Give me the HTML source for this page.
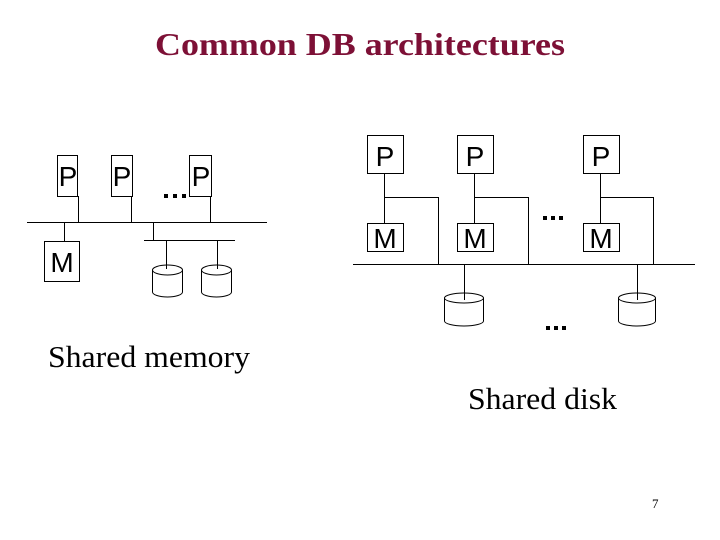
<!DOCTYPE html>
<html><head><style>body{margin:0;background:#fff}svg{display:block}</style></head>
<body>
<svg width="720" height="540" xmlns="http://www.w3.org/2000/svg" font-family="Liberation Sans, sans-serif">
<text x="360" y="55" text-anchor="middle" font-family="Liberation Serif, serif" font-weight="bold" font-size="32" fill="#7d1036" textLength="410" lengthAdjust="spacingAndGlyphs">Common DB architectures</text>
<g stroke="#000" stroke-width="1" fill="none">
<rect x="57.5" y="155.5" width="20" height="41"/>
<rect x="111.5" y="155.5" width="21" height="41"/>
<rect x="189.5" y="155.5" width="22" height="41"/>
<rect x="44.5" y="241.5" width="35" height="40"/>
<line x1="27" y1="222.5" x2="267" y2="222.5"/>
<line x1="78.5" y1="196" x2="78.5" y2="222"/>
<line x1="131.5" y1="196" x2="131.5" y2="222"/>
<line x1="210.5" y1="196" x2="210.5" y2="222"/>
<line x1="64.5" y1="222" x2="64.5" y2="241"/>
<line x1="153.5" y1="222" x2="153.5" y2="240"/>
<line x1="144" y1="240.5" x2="235" y2="240.5"/>
<line x1="166.5" y1="240" x2="166.5" y2="269"/>
<line x1="217.5" y1="240" x2="217.5" y2="269"/>
<path d="M152.5 270 v22 a15 5 0 0 0 30 0 v-22 a15 5 0 0 0 -30 0 a15 5 0 0 0 30 0"/>
<path d="M201.5 270 v22 a15 5 0 0 0 30 0 v-22 a15 5 0 0 0 -30 0 a15 5 0 0 0 30 0"/>
<rect x="367.5" y="135.5" width="36" height="38"/>
<rect x="457.5" y="135.5" width="36" height="38"/>
<rect x="583.5" y="135.5" width="36" height="38"/>
<rect x="367.5" y="223.5" width="36" height="28"/>
<rect x="457.5" y="223.5" width="36" height="28"/>
<rect x="583.5" y="223.5" width="36" height="28"/>
<line x1="384.5" y1="173" x2="384.5" y2="223"/>
<line x1="474.5" y1="173" x2="474.5" y2="223"/>
<line x1="600.5" y1="173" x2="600.5" y2="223"/>
<path d="M384 197.5 H438.5 V264"/>
<path d="M474 197.5 H528.5 V264"/>
<path d="M600 197.5 H653.5 V264"/>
<line x1="353" y1="264.5" x2="695" y2="264.5"/>
<line x1="464.5" y1="264" x2="464.5" y2="300"/>
<line x1="637.5" y1="264" x2="637.5" y2="300"/>
<path d="M444.5 298 v23 a19.5 5 0 0 0 39 0 v-23 a19.5 5 0 0 0 -39 0 a19.5 5 0 0 0 39 0"/>
<path d="M618.5 298 v23 a18.5 5 0 0 0 37 0 v-23 a18.5 5 0 0 0 -37 0 a18.5 5 0 0 0 37 0"/>
</g>
<g font-size="28" text-anchor="middle">
<text x="68" y="186">P</text><text x="122" y="186">P</text><text x="201" y="186">P</text>
<text x="62" y="272">M</text>
<text x="385" y="166">P</text><text x="475" y="166">P</text><text x="601" y="166">P</text>
<text x="385" y="248">M</text><text x="475" y="248">M</text><text x="601" y="248">M</text>
</g>
<g fill="#000">
<rect x="164" y="194" width="4" height="4"/><rect x="173" y="194" width="4" height="4"/><rect x="182" y="194" width="4" height="4"/>
<rect x="543" y="216" width="4" height="4"/><rect x="551" y="216" width="4" height="4"/><rect x="559" y="216" width="4" height="4"/>
<rect x="546" y="326" width="4" height="4"/><rect x="554" y="326" width="4" height="4"/><rect x="562" y="326" width="4" height="4"/>
</g>
<g font-family="Liberation Serif, serif" font-size="31">
<text x="48" y="367" textLength="202" lengthAdjust="spacingAndGlyphs">Shared memory</text>
<text x="468" y="409" textLength="149" lengthAdjust="spacingAndGlyphs">Shared disk</text>
</g>
<text x="652" y="508" font-family="Liberation Serif, serif" font-size="13">7</text>
</svg>
</body></html>
